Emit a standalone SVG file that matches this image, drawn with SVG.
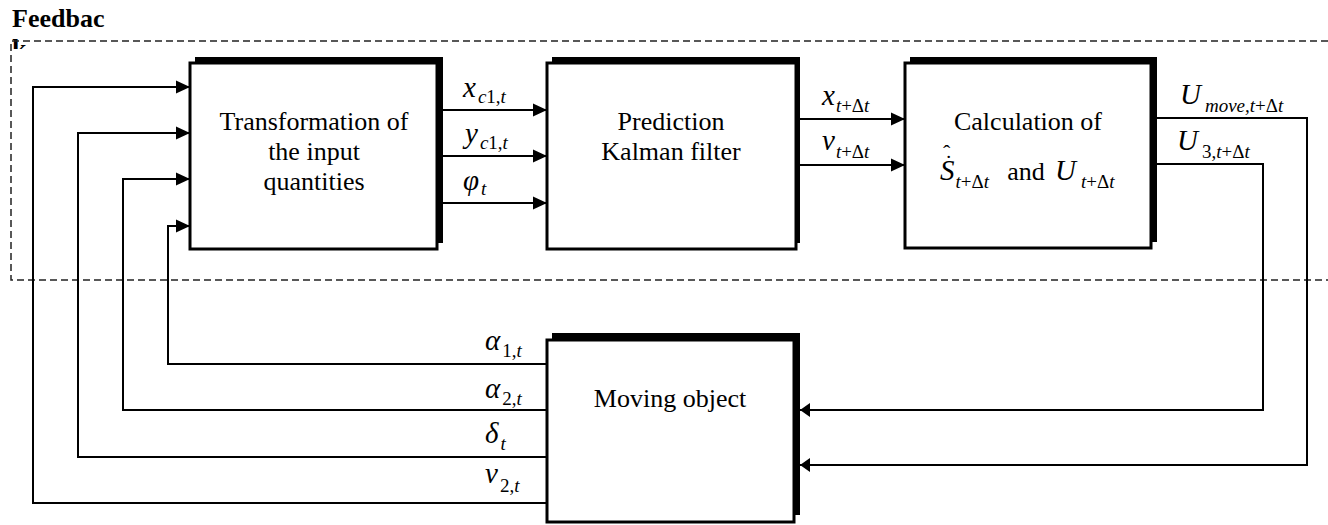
<svg xmlns="http://www.w3.org/2000/svg" width="1328" height="525" viewBox="0 0 1328 525">
  <style>
    text { font-family: "Liberation Serif", "Times New Roman", serif; fill: #000; }
    .lbl { font-size: 26px; text-anchor: middle; }
    .ttl { font-size: 26px; font-weight: bold; }
    .m { font-size: 29px; font-style: italic; }
    .s { font-size: 19px; font-style: italic; }
    .r { font-style: normal; }
    .acc { font-size: 22px; font-style: normal; }
    .box { fill: #fff; stroke: #000; stroke-width: 3; }
    .shadow { fill: #000; }
    .wire { fill: none; stroke: #000; stroke-width: 2; }
    .frame { fill: none; stroke: #222; stroke-width: 1.5; stroke-dasharray: 7 4; }
  </style>
  <defs>
    <marker id="arr" markerUnits="userSpaceOnUse" markerWidth="15" markerHeight="14" refX="14" refY="7" orient="auto">
      <path d="M0,0.5 L14,7 L0,13.5 Z" fill="#000"/>
    </marker>
    <marker id="arrS" markerUnits="userSpaceOnUse" markerWidth="11" markerHeight="14" refX="10" refY="7" orient="auto">
      <path d="M0,0 L10,7 L0,14 Z" fill="#000"/>
    </marker>
    <clipPath id="titleClip">
      <rect x="0" y="0" width="200" height="49"/>
    </clipPath>
  </defs>

  <!-- feedback region title (text frame clips the wrapped last letter) -->
  <g id="title" clip-path="url(#titleClip)">
    <text class="ttl" x="12" y="27">Feedbac</text>
    <text class="ttl" x="12" y="57">k</text>
  </g>

  <!-- dashed feedback frame -->
  <path id="feedback-frame" class="frame" d="M1328,41 H11 V280 H1328"/>

  <!-- connectors -->
  <g id="connectors">
    <path class="wire" d="M547,503 H33 V87 H190" marker-end="url(#arr)"/>
    <path class="wire" d="M547,457 H78 V133 H190" marker-end="url(#arr)"/>
    <path class="wire" d="M547,410 H123 V179 H190" marker-end="url(#arr)"/>
    <path class="wire" d="M547,364 H168 V226 H190" marker-end="url(#arr)"/>
    <path class="wire" d="M437,110 H547" marker-end="url(#arr)"/>
    <path class="wire" d="M437,156 H547" marker-end="url(#arr)"/>
    <path class="wire" d="M437,203 H547" marker-end="url(#arr)"/>
    <path class="wire" d="M796,119 H905" marker-end="url(#arr)"/>
    <path class="wire" d="M796,165 H905" marker-end="url(#arr)"/>
    <path class="wire" d="M1151,118 H1307 V465 H800" marker-end="url(#arrS)"/>
    <path class="wire" d="M1151,164 H1263 V410 H800" marker-end="url(#arrS)"/>

    <!-- signal labels -->
    <text class="m" x="463" y="97">x<tspan class="s" dx="2" dy="6">c</tspan><tspan class="s r">1,</tspan><tspan class="s">t</tspan></text>
    <text class="m" x="465" y="143">y<tspan class="s" dx="2" dy="6">c</tspan><tspan class="s r">1,</tspan><tspan class="s">t</tspan></text>
    <text class="m" x="463" y="190">φ<tspan class="s" dx="2" dy="5">t</tspan></text>

    <text class="m" x="822" y="105">x<tspan class="s" dx="1" dy="7">t</tspan><tspan class="s r">+Δ</tspan><tspan class="s">t</tspan></text>
    <text class="m" x="822" y="150">v<tspan class="s" dx="1" dy="8">t</tspan><tspan class="s r">+Δ</tspan><tspan class="s">t</tspan></text>

    <text class="m" x="1180" y="104">U<tspan class="s" dx="4" dy="8">move,t</tspan><tspan class="s r">+Δ</tspan><tspan class="s">t</tspan></text>
    <text class="m" x="1177" y="150">U<tspan class="s r" dx="4" dy="8">3,</tspan><tspan class="s">t</tspan><tspan class="s r">+Δ</tspan><tspan class="s">t</tspan></text>

    <text class="m" x="485" y="350">α<tspan class="s r" dx="2" dy="7">1,</tspan><tspan class="s">t</tspan></text>
    <text class="m" x="485" y="398">α<tspan class="s r" dx="2" dy="7">2,</tspan><tspan class="s">t</tspan></text>
    <text class="m" x="485" y="443">δ<tspan class="s" dx="2" dy="7">t</tspan></text>
    <text class="m" x="485" y="483">v<tspan class="s r" dx="2" dy="9">2,</tspan><tspan class="s">t</tspan></text>
  </g>

  <!-- Transformation block -->
  <g id="node-transform">
    <rect class="shadow" x="195" y="57" width="248" height="186"/>
    <rect class="box" x="190" y="63" width="247" height="186"/>
    <text class="lbl" x="314" y="130">Transformation of</text>
    <text class="lbl" x="314" y="160">the input</text>
    <text class="lbl" x="314" y="190">quantities</text>
  </g>

  <!-- Kalman filter block -->
  <g id="node-kalman">
    <rect class="shadow" x="552" y="57" width="248" height="186"/>
    <rect class="box" x="547" y="63" width="249" height="186"/>
    <text class="lbl" x="671" y="130">Prediction</text>
    <text class="lbl" x="671" y="160">Kalman filter</text>
  </g>

  <!-- Calculation block -->
  <g id="node-calc">
    <rect class="shadow" x="910" y="57" width="247" height="185"/>
    <rect class="box" x="905" y="63" width="246" height="185"/>
    <text class="lbl" x="1028" y="130">Calculation of</text>
    <!-- S with dot and hat accents, subscript t+Δt -->
    <text class="m" x="940" y="180">S<tspan class="s" dx="1" dy="8">t</tspan><tspan class="s r">+Δ</tspan><tspan class="s">t</tspan><tspan class="acc" x="943" y="160">ˆ</tspan><tspan class="acc" x="945" y="170">˙</tspan></text>
    <text class="lbl" x="1026" y="180">and</text>
    <text class="m" x="1055" y="180">U<tspan class="s" dx="5" dy="8">t</tspan><tspan class="s r">+Δ</tspan><tspan class="s">t</tspan></text>
  </g>

  <!-- Moving object block -->
  <g id="node-object">
    <rect class="shadow" x="552" y="333" width="248" height="182"/>
    <rect class="box" x="547" y="340" width="247" height="182"/>
    <text class="lbl" x="670" y="407">Moving object</text>
  </g>
</svg>
